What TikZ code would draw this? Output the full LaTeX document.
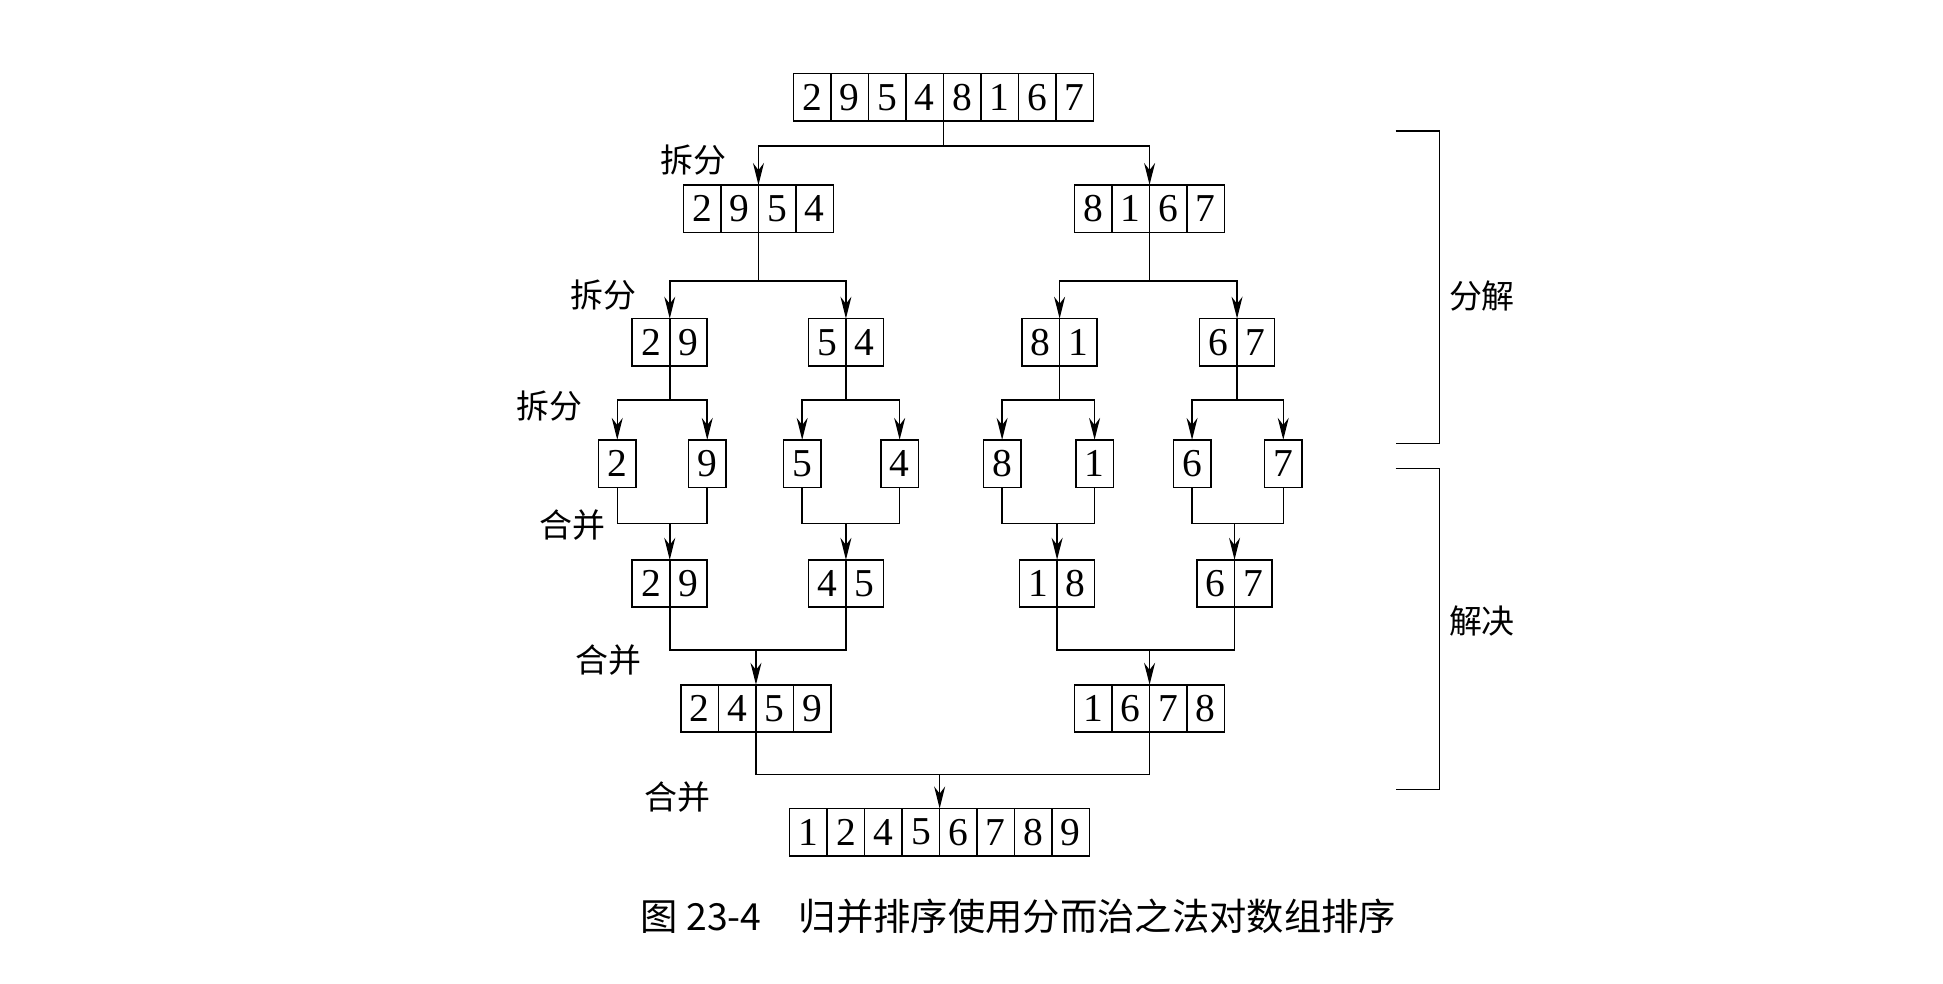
\documentclass[tikz,border=0pt]{standalone}
\usepackage{fontspec}
\setmainfont{Liberation Serif}
\newfontfamily\cjk{Noto Sans CJK SC}
\usetikzlibrary{arrows.meta,calc}
\tikzset{
    >={Stealth[length=10pt,width=5pt]},
    every picture/.style={line width=0.7pt},
    cell/.style={draw,minimum width=0.6cm,minimum height=0.76cm,inner sep=0pt,font=\fontsize{18}{18}\selectfont},
    step label/.style={font=\cjk\fontsize{15}{15}\selectfont},
    side label/.style={font=\cjk\fontsize{15}{15}\selectfont}
}
% array of cells: name, centre x, centre y, number of cells, digits
\newcommand\cellrow[5]{%
    \foreach \d [count=\i] in {#5} {
        \node[cell] (#1-\i) at ({#2+(\i-(#4+1)/2)*30},#3) {\d};
    }
    \coordinate (#1-n) at (#2,#3-19);
    \coordinate (#1-s) at (#2,#3+19);
}

\begin{document}
\begin{tikzpicture}[x=0.02cm,y=-0.02cm]
        \useasboundingbox (0,0) rectangle (1555,787);

        % Arrays
        \cellrow{top}{755}{78}{8}{2,9,5,4,8,1,6,7}
        \cellrow{a}{607}{167}{4}{2,9,5,4}
        \cellrow{b}{920}{167}{4}{8,1,6,7}
        \cellrow{aa}{536}{274}{2}{2,9}
        \cellrow{ab}{677}{274}{2}{5,4}
        \cellrow{ba}{848}{274}{2}{8,1}
        \cellrow{bb}{990}{274}{2}{6,7}
        \cellrow{s1}{494}{371}{1}{2}
        \cellrow{s2}{566}{371}{1}{9}
        \cellrow{s3}{642}{371}{1}{5}
        \cellrow{s4}{720}{371}{1}{4}
        \cellrow{s5}{802}{371}{1}{8}
        \cellrow{s6}{876}{371}{1}{1}
        \cellrow{s7}{954}{371}{1}{6}
        \cellrow{s8}{1027}{371}{1}{7}
        \cellrow{ma}{536}{467}{2}{2,9}
        \cellrow{mb}{677}{467}{2}{4,5}
        \cellrow{mc}{846}{467}{2}{1,8}
        \cellrow{md}{988}{467}{2}{6,7}
        \cellrow{la}{605}{567}{4}{2,4,5,9}
        \cellrow{lb}{920}{567}{4}{1,6,7,8}
        \cellrow{fin}{752}{666}{8}{1,2,4,5,6,7,8,9}

        % Splits
        \foreach \p/\l/\r/\y in {top/a/b/117, a/aa/ab/225, b/ba/bb/225,
                aa/s1/s2/320, ab/s3/s4/320, ba/s5/s6/320, bb/s7/s8/320} {
            \draw (\p-s) -- (\p-s |- 0,\y) coordinate (\p-k);
            \draw[->] (\p-k) -| (\l-n);
            \draw[->] (\p-k) -| (\r-n);
        }

        % Merges
        \foreach \l/\r/\t/\y in {s1/s2/ma/419, s3/s4/mb/419, s5/s6/mc/419, s7/s8/md/419,
                ma/mb/la/520, mc/md/lb/520, la/lb/fin/620} {
            \coordinate (\t-k) at (\t-n |- 0,\y);
            \draw (\l-s) |- (\t-k) -| (\r-s);
            \draw[->] (\t-k) -- (\t-n);
        }

        % Step labels
        \foreach \x/\y/\t in {555/128/拆分, 483/236/拆分, 440/325/拆分,
                458/420/合并, 487/528/合并, 542/638/合并}
            \node[step label] at (\x,\y) {\t};

        % Brackets
        \draw (1117,105) -- (1152,105) -- (1152,355) -- (1117,355);
        \draw (1117,375) -- (1152,375) -- (1152,632) -- (1117,632);
        \node[side label] (fj) at (1186,237) {分解};
        \node[side label] (jj) at (1186,497) {解决};

        % Caption
        \node[font=\cjk\fontsize{17}{17}\selectfont] (cap) at (815,733) {图 23-4\quad 归并排序使用分而治之法对数组排序};
    \end{tikzpicture}
\end{document}
